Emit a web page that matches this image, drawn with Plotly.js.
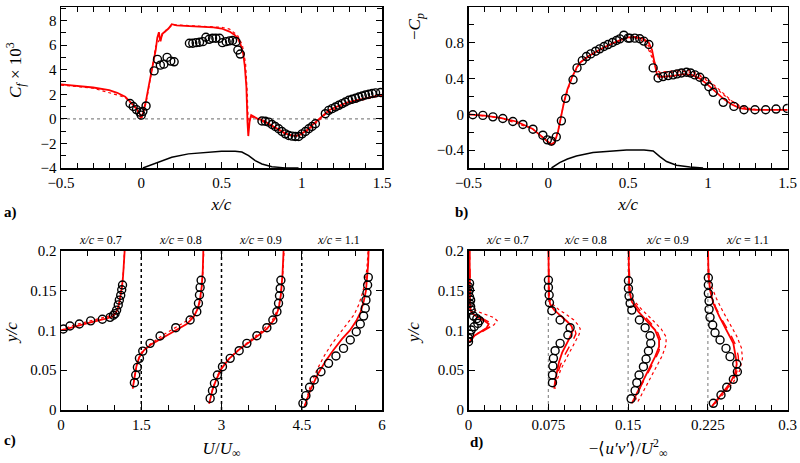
<!DOCTYPE html>
<html><head><meta charset="utf-8">
<script src="https://cdn.plot.ly/plotly-3.0.1.min.js"></script>
<style>html,body{margin:0;padding:0;background:#fff}#chart{width:800px;height:463px}</style>
</head><body><div id="chart"></div>
<script>
// ---------- Panel a: skin friction ----------
const cfExpX = [-0.07,-0.05,-0.03,-0.01,0.0,0.01,0.03,
  0.080,0.101,0.119,0.141,0.161,0.184,0.205,
  0.300,0.321,0.342,0.363,0.384,0.403,0.423,0.444,0.465,0.488,0.506,0.529,0.550,0.569,0.590,0.602,0.617,
  0.752,0.773,0.794,0.815,0.835,0.856,0.877,0.898,0.919,0.940,0.960,0.981,1.002,1.023,1.044,1.064,1.085,
  1.147,1.168,1.189,1.210,1.231,1.252,1.272,1.293,1.314,1.335,1.356,1.377,1.397,1.418,1.439,1.460,1.491];
const cfExpY = [1.25,1.0,0.75,0.55,0.3,0.6,1.05,
  3.9,4.84,4.37,4.45,5.0,4.7,4.64,
  6.15,6.15,6.2,6.23,6.28,6.64,6.47,6.56,6.56,6.56,6.2,6.28,6.34,6.37,6.28,5.6,5.27,
  -0.18,-0.2,-0.27,-0.46,-0.62,-0.81,-1.03,-1.22,-1.36,-1.41,-1.44,-1.44,-1.22,-1.03,-0.81,-0.62,-0.40,
  0.42,0.69,0.83,0.96,1.10,1.24,1.37,1.51,1.59,1.67,1.78,1.86,1.94,2.0,2.06,2.11,2.14];
const cfSimX = [-0.5,-0.4,-0.3,-0.2,-0.15,-0.1,-0.06,-0.03,-0.01,0.0,0.01,0.03,0.05,0.07,0.09,0.1,0.105,0.11,0.115,0.12,0.13,0.15,0.17,0.19,0.22,0.3,0.4,0.45,0.5,0.55,0.58,0.6,0.62,0.635,0.645,0.655,0.662,0.667,0.675,0.685,0.72,0.76,0.8,0.85,0.9,0.94,0.97,1.0,1.04,1.07,1.1,1.13,1.17,1.22,1.29,1.35,1.4,1.45,1.5];
const cfSimY = [2.8,2.7,2.55,2.33,2.12,1.8,1.3,0.85,0.4,0.1,0.4,1.5,2.9,4.2,5.6,6.6,6.9,7.05,6.6,6.3,6.9,7.1,7.35,7.7,7.6,7.55,7.5,7.45,7.35,7.1,6.85,6.6,6.0,5.3,4.3,2.6,-0.3,-1.4,-0.2,0.3,0.05,-0.15,-0.45,-0.85,-1.2,-1.36,-1.37,-1.2,-0.85,-0.45,-0.1,0.3,0.7,1.0,1.37,1.55,1.7,1.85,1.98];
const cfSim2X = [-0.5,-0.3,-0.1,-0.03,0.0,0.03,0.06,0.09,0.12,0.16,0.2,0.3,0.4,0.5,0.55,0.6,0.63,0.65,0.66,0.668,0.68,0.72,0.8,0.9,0.97,1.0,1.05,1.1,1.15,1.2,1.3,1.4,1.5];
const cfSim2Y = [2.75,2.5,1.75,0.8,-0.1,1.3,3.5,5.9,6.6,7.3,7.65,7.6,7.55,7.45,7.3,6.8,6.0,4.5,2.2,-0.8,0.2,0.0,-0.5,-1.25,-1.4,-1.3,-0.85,-0.2,0.4,0.75,1.25,1.6,1.9];
const humpAx = [0.01,0.04,0.086,0.14,0.19,0.294,0.398,0.5,0.585,0.627,0.669,0.71,0.752,0.814,0.897,0.98];
const humpAy = [-4.0,-3.85,-3.62,-3.35,-3.13,-2.85,-2.72,-2.64,-2.64,-2.7,-2.99,-3.4,-3.67,-3.89,-3.99,-4.0];
const zeroLineX = [-0.5,1.5];
const zeroLineY = [0,0];

// ---------- Panel b: pressure ----------
const cpExpX = [-0.473,-0.41,-0.347,-0.285,-0.222,-0.159,-0.096,-0.034,-0.006,0.019,0.05,0.082,0.109,0.155,0.18,0.213,0.239,0.266,0.297,0.322,0.349,0.374,0.402,0.427,0.448,0.473,0.5,0.51,0.542,0.573,0.598,0.63,0.657,0.688,0.719,0.751,0.782,0.807,0.835,0.866,0.891,0.918,0.949,0.981,1.006,1.033,1.096,1.163,1.226,1.295,1.362,1.427,1.497];
const cpExpY = [-0.005,-0.012,-0.028,-0.046,-0.08,-0.113,-0.166,-0.233,-0.285,-0.30,-0.252,-0.073,0.179,0.387,0.519,0.6,0.646,0.676,0.706,0.732,0.758,0.78,0.803,0.825,0.844,0.885,0.852,0.852,0.852,0.845,0.819,0.781,0.519,0.407,0.422,0.433,0.441,0.452,0.463,0.47,0.463,0.441,0.415,0.369,0.309,0.246,0.134,0.089,0.051,0.051,0.051,0.059,0.066];
const cpSimX = [-0.5,-0.4,-0.3,-0.2,-0.1,-0.05,0.0,0.02,0.04,0.06,0.08,0.1,0.12,0.15,0.18,0.2,0.25,0.3,0.35,0.4,0.45,0.5,0.55,0.6,0.63,0.65,0.67,0.68,0.69,0.72,0.78,0.85,0.9,0.95,1.0,1.05,1.1,1.15,1.2,1.25,1.3,1.4,1.5];
const cpSimY = [0.0,-0.015,-0.04,-0.08,-0.16,-0.23,-0.31,-0.34,-0.31,-0.2,-0.02,0.15,0.28,0.42,0.53,0.58,0.65,0.7,0.75,0.79,0.83,0.86,0.865,0.84,0.8,0.72,0.55,0.45,0.42,0.42,0.43,0.45,0.44,0.4,0.33,0.25,0.17,0.11,0.07,0.055,0.05,0.05,0.05];
const cpSim2X = [-0.5,-0.3,-0.1,0.0,0.02,0.06,0.1,0.15,0.2,0.3,0.4,0.5,0.55,0.58,0.6,0.62,0.64,0.66,0.68,0.7,0.75,0.8,0.85,0.9,0.95,1.0,1.05,1.1,1.15,1.2,1.25,1.3,1.4,1.5];
const cpSim2Y = [0.0,-0.04,-0.16,-0.31,-0.34,-0.2,0.15,0.42,0.58,0.7,0.79,0.86,0.85,0.83,0.8,0.75,0.68,0.58,0.49,0.47,0.48,0.49,0.5,0.48,0.44,0.39,0.31,0.23,0.15,0.1,0.07,0.055,0.05,0.05];
const cpSim3X = [0.6,0.63,0.66,0.68,0.7,0.75,0.8,0.85,0.9,0.95,1.0,1.05,1.1,1.15,1.2,1.25,1.3];
const cpSim3Y = [0.83,0.76,0.62,0.5,0.46,0.465,0.475,0.48,0.465,0.43,0.37,0.29,0.21,0.14,0.09,0.065,0.05];
const humpBx = [0.02,0.05,0.071,0.12,0.176,0.28,0.385,0.49,0.6,0.657,0.699,0.741,0.803,0.887,0.97];
const humpBy = [-0.6,-0.565,-0.54,-0.5,-0.466,-0.427,-0.409,-0.398,-0.398,-0.41,-0.472,-0.528,-0.57,-0.59,-0.6];

// ---------- Panel c: mean velocity profiles (offset by 1.5 per station) ----------
const stationLabels = ['0.7','0.8','0.9','1.1'];
const uExp07X = [0.044,0.168,0.343,0.555,0.773,0.917,0.98,1.01,1.04,1.07,1.09,1.116,1.135,1.15];
const uExp07Y = [0.1017,0.1055,0.108,0.112,0.114,0.1164,0.119,0.121,0.1255,0.132,0.138,0.144,0.151,0.157];
const uExp08X = [1.372,1.397,1.428,1.466,1.528,1.665,1.852,2.145,2.413,2.538,2.569,2.588,2.6,2.619];
const uExp08Y = [0.0343,0.0439,0.0536,0.0649,0.074,0.0837,0.0929,0.1034,0.113,0.1235,0.134,0.1444,0.154,0.163];
const uExp09X = [2.788,2.831,2.868,2.924,3.018,3.162,3.33,3.474,3.661,3.848,3.96,4.036,4.066,4.084,4.097,4.11];
const uExp09Y = [0.0146,0.0243,0.0335,0.0439,0.0544,0.0649,0.0745,0.0837,0.0933,0.1034,0.113,0.1235,0.134,0.1435,0.1527,0.163];
const uExp11X = [4.522,4.578,4.646,4.733,4.859,5.001,5.139,5.281,5.407,5.519,5.594,5.656,5.687,5.7,5.719,5.731,5.744];
const uExp11Y = [0.0084,0.018,0.0285,0.0377,0.0481,0.0586,0.0678,0.0774,0.0879,0.0983,0.108,0.118,0.1276,0.138,0.1473,0.157,0.1666];
const uSim07X = [0.0,0.2,0.5,0.8,0.95,1.02,1.06,1.09,1.12,1.14,1.16,1.18,1.19];
const uSim07Y = [0.1,0.104,0.109,0.114,0.117,0.121,0.127,0.135,0.145,0.155,0.168,0.185,0.2];
const uSim08X = [1.34,1.37,1.41,1.46,1.55,1.7,1.9,2.15,2.35,2.48,2.56,2.6,2.63,2.65,2.66];
const uSim08Y = [0.027,0.04,0.055,0.066,0.075,0.083,0.091,0.1,0.108,0.117,0.128,0.14,0.155,0.175,0.2];
const uSim09X = [2.77,2.83,2.9,3.0,3.15,3.35,3.6,3.85,4.0,4.07,4.11,4.14,4.16];
const uSim09Y = [0.008,0.025,0.038,0.052,0.065,0.077,0.089,0.102,0.115,0.128,0.145,0.17,0.2];
const uSim11X = [4.55,4.66,4.8,4.95,5.1,5.25,5.4,5.52,5.6,5.66,5.7,5.72,5.74,5.75];
const uSim11Y = [0.004,0.025,0.045,0.062,0.076,0.089,0.1,0.112,0.123,0.137,0.15,0.165,0.182,0.2];
const uAlt07X = [0.0,0.2,0.5,0.8,0.95,1.03,1.07,1.1,1.13,1.15,1.17,1.185];
const uAlt07Y = [0.1,0.106,0.111,0.116,0.119,0.123,0.13,0.138,0.15,0.162,0.178,0.2];
const uAlt08X = [1.34,1.38,1.43,1.5,1.65,1.9,2.15,2.35,2.5,2.58,2.62,2.65,2.67];
const uAlt08Y = [0.027,0.045,0.06,0.072,0.082,0.094,0.104,0.112,0.12,0.13,0.145,0.17,0.2];
const uAlt09X = [2.77,2.84,2.92,3.05,3.25,3.5,3.75,3.95,4.05,4.1,4.14,4.17];
const uAlt09Y = [0.008,0.028,0.043,0.058,0.072,0.085,0.099,0.113,0.126,0.14,0.165,0.2];
const uAlt11X = [4.55,4.65,4.78,4.92,5.05,5.2,5.35,5.48,5.57,5.64,5.69,5.72,5.74];
const uAlt11Y = [0.004,0.028,0.05,0.068,0.082,0.095,0.108,0.12,0.133,0.148,0.163,0.18,0.2];
const uOffsets = [1.5,3,4.5];

// ---------- Panel d: Reynolds shear stress (offset by 0.075 per station) ----------
const uvExp07X = [0.001,0.0,0.001,0.0,0.001,0.002,0.001,0.002,0.0025,0.0047,0.0078,0.0103,0.0088,0.0053,0.0025,0.001,0.0,0.0];
const uvExp07Y = [0.159,0.155,0.151,0.147,0.142,0.138,0.134,0.13,0.1255,0.118,0.1147,0.1122,0.1088,0.1046,0.1004,0.0954,0.09,0.0858];
const uvExp08X = [0.0751,0.0751,0.0758,0.0761,0.0783,0.0861,0.0955,0.0934,0.0861,0.0814,0.0798,0.0793,0.0789,0.0789];
const uvExp08Y = [0.1632,0.154,0.1444,0.1347,0.1247,0.113,0.1034,0.0942,0.0837,0.0745,0.0649,0.0552,0.0439,0.0343];
const uvExp09X = [0.1503,0.1503,0.1509,0.1519,0.1535,0.1606,0.166,0.1707,0.1713,0.1691,0.1669,0.1644,0.1603,0.1582,0.1566,0.1528];
const uvExp09Y = [0.1624,0.1527,0.1431,0.134,0.1255,0.113,0.1034,0.0933,0.0837,0.0741,0.064,0.0544,0.0439,0.0343,0.0243,0.0142];
const uvExp11X = [0.2254,0.2254,0.2254,0.2261,0.2261,0.227,0.2295,0.2317,0.2364,0.242,0.2458,0.2521,0.2527,0.2489,0.2427,0.2373,0.2301];
const uvExp11Y = [0.1661,0.157,0.1465,0.1368,0.1264,0.1164,0.1067,0.0971,0.0879,0.0774,0.067,0.0578,0.0481,0.0385,0.0285,0.0188,0.0084];
const uvSim07X = [0.001,0.001,0.0015,0.003,0.008,0.015,0.019,0.017,0.01,0.004,0.002,0.001];
const uvSim07Y = [0.2,0.14,0.127,0.122,0.117,0.112,0.108,0.103,0.097,0.092,0.088,0.085];
const uvSim08X = [0.0752,0.0755,0.077,0.081,0.087,0.093,0.097,0.098,0.096,0.092,0.088,0.085,0.083,0.0815,0.0805];
const uvSim08Y = [0.2,0.14,0.132,0.125,0.118,0.111,0.105,0.1,0.093,0.083,0.072,0.06,0.048,0.037,0.027];
const uvSim09X = [0.1505,0.151,0.1535,0.1597,0.1681,0.1754,0.1791,0.1791,0.1754,0.1707,0.166,0.1613,0.1566,0.1535];
const uvSim09Y = [0.2,0.1507,0.136,0.1235,0.111,0.1004,0.0879,0.0795,0.067,0.0544,0.0418,0.0272,0.0146,0.0084];
const uvSim11X = [0.2252,0.2255,0.227,0.2301,0.2358,0.2427,0.2489,0.2511,0.2521,0.2505,0.2458,0.2395,0.2333,0.2286];
const uvSim11Y = [0.2,0.17,0.1507,0.134,0.1172,0.1004,0.0837,0.067,0.0578,0.046,0.0335,0.023,0.0126,0.0042];
const uvDot07X = [0.001,0.001,0.003,0.008,0.016,0.024,0.027,0.024,0.015,0.007,0.003,0.002];
const uvDot07Y = [0.2,0.135,0.128,0.124,0.12,0.116,0.112,0.107,0.101,0.095,0.09,0.087];
const uvDot08X = [0.0752,0.0758,0.079,0.085,0.092,0.099,0.103,0.105,0.104,0.1,0.095,0.09,0.086,0.083,0.0815];
const uvDot08Y = [0.2,0.14,0.133,0.126,0.12,0.113,0.107,0.102,0.095,0.085,0.073,0.06,0.048,0.037,0.027];
const uvDot09X = [0.1505,0.1515,0.155,0.163,0.173,0.181,0.1857,0.1857,0.182,0.176,0.17,0.164,0.159];
const uvDot09Y = [0.2,0.147,0.138,0.126,0.113,0.102,0.092,0.082,0.068,0.053,0.039,0.024,0.01];
const uvDot11X = [0.2252,0.2258,0.2285,0.233,0.239,0.246,0.252,0.2565,0.2575,0.255,0.249,0.241,0.233,0.228];
const uvDot11Y = [0.2,0.17,0.155,0.14,0.124,0.108,0.093,0.078,0.065,0.05,0.035,0.022,0.011,0.004];
const uvDash07X = [0.001,0.002,0.006,0.013,0.02,0.023,0.02,0.012,0.005,0.002];
const uvDash07Y = [0.2,0.126,0.12,0.115,0.111,0.108,0.104,0.098,0.092,0.087];
const uvDash08X = [0.0752,0.0757,0.078,0.083,0.09,0.096,0.1,0.101,0.099,0.095,0.09,0.086,0.083,0.081];
const uvDash08Y = [0.2,0.138,0.13,0.122,0.114,0.107,0.101,0.096,0.09,0.08,0.068,0.055,0.042,0.03];
const uvDash09X = [0.1505,0.152,0.157,0.164,0.172,0.178,0.181,0.179,0.174,0.168,0.162,0.157];
const uvDash09Y = [0.2,0.145,0.132,0.12,0.108,0.097,0.086,0.074,0.06,0.045,0.03,0.013];
const uvDash11X = [0.2252,0.226,0.2285,0.232,0.238,0.245,0.251,0.2535,0.254,0.2515,0.246,0.239,0.232];
const uvDash11Y = [0.2,0.16,0.145,0.13,0.114,0.098,0.082,0.068,0.058,0.045,0.032,0.02,0.008];
const uvOffsets = [0.075,0.15,0.225];

// ---------- traces ----------
const RED = '#ff0000';
const SERIF = 'Liberation Serif';
const traces = [];
function line(x, y, xa, ya, color, width, dash) {
  traces.push({x:x, y:y, xaxis:xa, yaxis:ya, type:'scatter', mode:'lines',
    line:{color:color, width:width, dash:dash||'solid'}, showlegend:false, hoverinfo:'skip'});
}
function circles(x, y, xa, ya) {
  traces.push({x:x, y:y, xaxis:xa, yaxis:ya, type:'scatter', mode:'markers',
    marker:{symbol:'circle-open', size:8, color:'black', line:{width:1.4, color:'black'}},
    showlegend:false, hoverinfo:'skip', cliponaxis:true});
}
function vline(xv, xa, ya, color, width, dash) {
  line([xv, xv], [0, 0.2], xa, ya, color, width, dash);
}

// a
line(zeroLineX, zeroLineY, 'x', 'y', '#888888', 1.2, 'dot');
line(humpAx, humpAy, 'x', 'y', 'black', 1.5);
line(cfSim2X, cfSim2Y, 'x', 'y', RED, 1.2, 'dot');
line(cfSimX, cfSimY, 'x', 'y', RED, 1.8);
circles(cfExpX, cfExpY, 'x', 'y');
// b
line(humpBx, humpBy, 'x2', 'y2', 'black', 1.5);
line(cpSim2X, cpSim2Y, 'x2', 'y2', RED, 1.2, 'dot');
line(cpSim3X, cpSim3Y, 'x2', 'y2', RED, 1.2, 'dot');
line(cpSimX, cpSimY, 'x2', 'y2', RED, 1.8);
circles(cpExpX, cpExpY, 'x2', 'y2');
// c
uOffsets.forEach(o => vline(o, 'x3', 'y3', 'black', 1.5, 'dot'));
[[uAlt07X,uAlt07Y],[uAlt08X,uAlt08Y],[uAlt09X,uAlt09Y],[uAlt11X,uAlt11Y]].forEach(p => line(p[0], p[1], 'x3', 'y3', RED, 1.2, 'dot'));
[[uSim07X,uSim07Y],[uSim08X,uSim08Y],[uSim09X,uSim09Y],[uSim11X,uSim11Y]].forEach(p => line(p[0], p[1], 'x3', 'y3', RED, 1.8));
[[uExp07X,uExp07Y],[uExp08X,uExp08Y],[uExp09X,uExp09Y],[uExp11X,uExp11Y]].forEach(p => circles(p[0], p[1], 'x3', 'y3'));
// d
uvOffsets.forEach(o => vline(o, 'x4', 'y4', '#777777', 1, 'dot'));
[[uvDot07X,uvDot07Y],[uvDot08X,uvDot08Y],[uvDot09X,uvDot09Y],[uvDot11X,uvDot11Y]].forEach(p => line(p[0], p[1], 'x4', 'y4', RED, 1.2, 'dot'));
[[uvDash07X,uvDash07Y],[uvDash08X,uvDash08Y],[uvDash09X,uvDash09Y],[uvDash11X,uvDash11Y]].forEach(p => line(p[0], p[1], 'x4', 'y4', RED, 1.4, 'dash'));
[[uvSim07X,uvSim07Y],[uvSim08X,uvSim08Y],[uvSim09X,uvSim09Y],[uvSim11X,uvSim11Y]].forEach(p => line(p[0], p[1], 'x4', 'y4', RED, 1.8));
[[uvExp07X,uvExp07Y],[uvExp08X,uvExp08Y],[uvExp09X,uvExp09Y],[uvExp11X,uvExp11Y]].forEach(p => circles(p[0], p[1], 'x4', 'y4'));

// ---------- axes ----------
function ax(extra, minorDtick) {
  const a = {showline:true, mirror:'ticks', linecolor:'black', linewidth:1.5,
    ticks:'inside', ticklen:6, tickwidth:1, tickcolor:'black',
    showgrid:false, zeroline:false, fixedrange:true,
    tickfont:{family:SERIF, size:15, color:'black'}};
  if (minorDtick) a.minor = {ticks:'inside', ticklen:5, tickwidth:1, tickcolor:'black', dtick:minorDtick, showgrid:false};
  return Object.assign(a, extra);
}
const titleFont = {family:SERIF, size:17, color:'black'};
const topDom = [1-168/463, 1-7/463];
const botDom = [1-410/463, 1-250.7/463];
const leftDom = [61/800, 382/800];
const rightDom = [468.5/800, 787.7/800];

const layout = {
  width:800, height:463, margin:{l:0,r:0,t:0,b:0},
  paper_bgcolor:'white', plot_bgcolor:'white', showlegend:false,
  font:{family:SERIF, size:15, color:'black'},
  xaxis: ax({domain:leftDom, anchor:'y', range:[-0.5,1.5], tick0:-0.5, dtick:0.5,
    title:{text:'<i>x/c</i>', font:titleFont, standoff:8}}, 0.1),
  yaxis: ax({domain:topDom, anchor:'x', range:[-4,9.1], tick0:0, dtick:2}, 1),
  xaxis2: ax({domain:rightDom, anchor:'y2', range:[-0.5,1.5], tick0:-0.5, dtick:0.5,
    title:{text:'<i>x/c</i>', font:titleFont, standoff:8}}, 0.1),
  yaxis2: ax({domain:topDom, anchor:'x2', range:[-0.6,1.2001], tick0:0, dtick:0.4}, 0.2),
  xaxis3: ax({domain:leftDom, anchor:'y3', range:[0,6], tick0:0, dtick:1.5,
    title:{text:'<i>U</i>/<i>U</i><sub>∞</sub>', font:titleFont, standoff:10}}, 0.5),
  yaxis3: ax({domain:botDom, anchor:'x3', range:[0,0.2001], tick0:0, dtick:0.05}),
  xaxis4: ax({domain:rightDom, anchor:'y4', range:[0,0.3], tick0:0, dtick:0.075,
    title:{text:'−⟨<i>u′v′</i>⟩/<i>U</i><sup>2</sup><sub>∞</sub>', font:titleFont, standoff:10}}, 0.015),
  yaxis4: ax({domain:botDom, anchor:'x4', range:[0,0.2001], tick0:0, dtick:0.05}),
  annotations: []
};
function note(text, px, py, size, angle) {
  layout.annotations.push({text:text, xref:'paper', yref:'paper', x:px/800, y:1-py/463,
    xanchor:'center', yanchor:'middle', showarrow:false, textangle:angle||0,
    font:{family:SERIF, size:size, color:'black'}});
}
note('<i>C<sub>f</sub></i> × 10<sup>3</sup>', 15, 70, 17, -90);
note('−<i>C<sub>p</sub></i>', 416, 27, 17, -90);
note('<i>y/c</i>', 11, 333, 17, -90);
note('<i>y/c</i>', 413, 333, 17, -90);
note('<b>a)</b>', 10, 212, 15);
note('<b>b)</b>', 461, 212, 15);
note('<b>c)</b>', 10, 440, 15);
note('<b>d)</b>', 477, 442, 15);
const cPx = [100,180,260,338];
const dPx = [507,585,667,747];
stationLabels.forEach((s,i) => {
  note('<i>x/c</i> = ' + s, cPx[i], 240, 12);
  note('<i>x/c</i> = ' + s, dPx[i], 240, 12);
});

Plotly.newPlot('chart', traces, layout, {staticPlot:true, displayModeBar:false});
</script>
</body></html>
